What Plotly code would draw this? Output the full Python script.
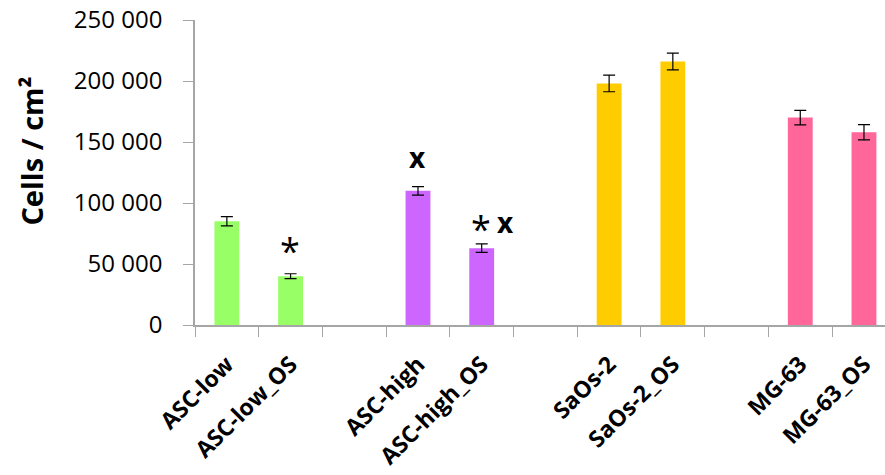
import plotly.graph_objects as go

# Cell density per condition (cells / cm²), blank slots separate the groups
categories = ["ASC-low", "ASC-low_OS", " ", "ASC-high", "ASC-high_OS", "  ",
              "SaOs-2", "SaOs-2_OS", "   ", "MG-63", "MG-63_OS"]
values = [85000, 40000, None, 110000, 63000, None, 198000, 216000, None, 170000, 158000]
errors = [3800, 2000, 0, 3500, 3500, 0, 6800, 6800, 0, 6000, 6300]
colors = ["#99FF66", "#99FF66", "#FFFFFF", "#CC66FF", "#CC66FF", "#FFFFFF",
          "#FFCC00", "#FFCC00", "#FFFFFF", "#FF6699", "#FF6699"]

# Significance marks: (category, y, text, horizontal offset in px)
marks = [("ASC-low_OS", 66000, "*", 0), ("ASC-high", 136000, "x", 0),
         ("ASC-high_OS", 84000, "*", 0), ("ASC-high_OS", 83000, "x", 24)]

font_family = "Open Sans"

fig = go.Figure()
fig.add_trace(go.Bar(
    x=categories, y=values,
    marker=dict(color=colors, line=dict(width=0)),
    width=0.39,
    error_y=dict(type="data", array=errors, visible=True,
                 color="#000000", thickness=1.2, width=6),
))

for cat, yv, txt, dx in marks:
    if txt == "*":
        fig.add_annotation(x=cat, y=yv, text=txt, showarrow=False, xshift=dx - 1,
                           yshift=-6,
                           font=dict(family=font_family, size=36, color="#000000"))
    else:
        fig.add_annotation(x=cat, y=yv, text=f"<b>{txt}</b>", showarrow=False,
                           xshift=dx, yshift=2,
                           font=dict(family=font_family, size=28, color="#000000"))

# Vertical axis title, placed a little above the plot's mid-height
fig.add_annotation(text="<b>Cells / cm²</b>", textangle=-90, showarrow=False,
                   xref="paper", yref="paper", x=-0.237, y=0.57,
                   xanchor="center", yanchor="middle",
                   font=dict(family=font_family, size=29, color="#000000"))

fig.update_layout(
    width=885, height=475,
    margin=dict(l=195, r=0, t=20, b=150),
    plot_bgcolor="white", paper_bgcolor="white",
    showlegend=False,
    font=dict(family=font_family, color="#000000"),
)
fig.update_xaxes(
    type="category", categoryorder="array", categoryarray=categories,
    range=[-0.5, 10.33],
    tickson="boundaries", ticks="outside", ticklen=10, tickcolor="#A6A6A6",
    showline=True, linecolor="#A6A6A6", linewidth=1.5,
    tickangle=-45,
    tickfont=dict(family=font_family, size=23, color="#000000", weight="bold"),
    ticklabelstandoff=15,
    showgrid=False, zeroline=False,
)
fig.update_yaxes(
    range=[0, 250000], tickvals=[0, 50000, 100000, 150000, 200000, 250000],
    ticktext=["0", "50 000", "100 000", "150 000", "200 000", "250 000"],
    ticks="outside", ticklen=10, tickcolor="#A6A6A6",
    showline=True, linecolor="#A6A6A6", linewidth=1.5,
    tickfont=dict(family=font_family, size=24, color="#000000"),
    ticklabelstandoff=16,
    showgrid=False, zeroline=False,
)

fig.write_html("out.html")
